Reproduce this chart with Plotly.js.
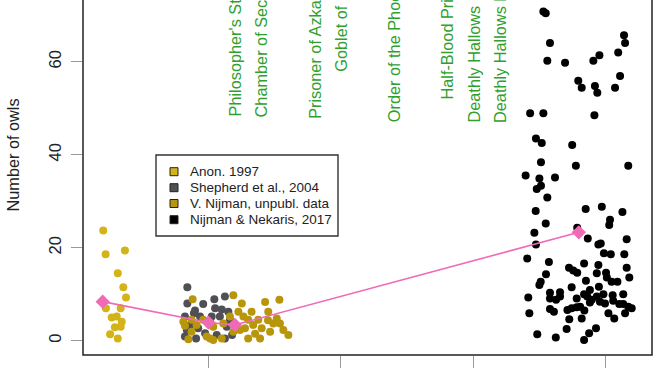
<!DOCTYPE html>
<html>
<head>
<meta charset="utf-8">
<script src="https://cdn.plot.ly/plotly-3.0.1.min.js"></script>
<style>html,body{margin:0;padding:0;background:#fff;}#chart{width:672px;height:372px;}</style>
</head>
<body>
<div id="chart"></div>
<script>
// ---- data ----
const anonYear = [1996.02,1996.11,1996.84,1996.57,1996.78,1996.88,1996.12,1996.68,1996.34,1996.53,1996.72,1996.46,1996.68,1996.28,1996.57];
const anonOwls = [23.7,18.6,19.4,14.5,11.5,9.3,7.0,7.0,5.0,5.2,4.1,2.9,3.0,1.4,0.5];

const shepYear = [1999.20,1999.20,1999.49,1999.80,2000.22,2000.62,2000.25,2000.50,1999.45,1999.11,2000.12,2000.43,1999.61,1999.11,1999.87,2000.31,2000.62,2000.69,2000.75,1999.18,1999.68,2000.81,1999.31,2000.06,2000.89,1999.53];
const shepOwls = [11.5,8.0,6.5,7.9,8.9,9.5,7.0,6.7,5.9,5.2,5.2,5.2,2.7,0.9,1.6,1.2,0.5,3.0,6.2,2.3,5.2,4.5,3.4,4.0,1.2,0.5];

const nijYear = [1999.40,2000.94,2001.26,2002.14,2002.68,2002.26,2001.13,1999.05,1999.36,1999.55,1999.80,1999.36,1999.93,2000.18,2000.56,2000.81,2000.94,2001.38,2001.50,2001.69,2001.88,2002.01,2001.95,2002.33,2002.45,2002.58,2002.70,2002.83,2003.02,2001.50,2000.50,2000.18,2001.63,2001.32,1999.11,1999.24,2000.06,2001.76,2002.25,2001.19];
const nijOwls = [8.9,9.8,8.0,8.3,8.8,6.2,6.2,4.1,4.5,3.4,4.5,1.9,0.9,3.0,3.7,5.2,1.9,2.7,4.5,3.4,4.5,2.7,0.5,1.9,3.7,4.8,3.7,2.3,1.2,0.5,0.5,0.15,6.2,5.2,3.2,0.3,0.5,1.5,4.4,2.3];

const nnYear = [2012.66,2012.75,2012.91,2012.81,2013.48,2014.55,2014.78,2015.49,2015.71,2015.75,2015.56,2013.98,2014.11,2014.61,2014.70,2015.37,2014.59,2012.16,2012.66,2012.38,2012.60,2013.75,2012.57,2013.89,2015.87,2011.99,2012.51,2013.10,2012.41,2012.57,2012.81,2012.37,2014.26,2014.87,2015.65,2012.75,2012.32,2015.18,2015.15,2013.94,2014.34,2012.38,2014.74,2014.83,2015.81,2012.05,2012.87,2014.95,2015.21,2015.72,2013.63,2013.79,2013.94,2014.20,2014.74,2015.81,2012.76,2012.56,2012.51,2014.27,2014.68,2015.03,2015.06,2015.24,2015.46,2015.91,2014.76,2013.73,2014.42,2012.91,2013.29,2014.20,2014.32,2014.93,2015.28,2015.68,2012.09,2012.91,2013.14,2013.29,2013.92,2014.49,2014.68,2014.80,2014.42,2014.99,2015.30,2015.53,2015.68,2015.87,2016.00,2015.75,2012.91,2013.06,2013.57,2013.73,2013.92,2014.05,2014.21,2014.11,2012.13,2013.64,2015.12,2015.34,2013.54,2012.43,2013.13,2014.20,2014.39,2014.65];
const nnOwls = [70.8,70.4,64.0,60.2,59.8,60.2,61.4,62.0,65.7,64.0,56.9,55.9,54.4,54.8,53.3,54.4,48.5,48.9,48.9,43.5,42.5,42.1,38.4,37.6,37.6,35.5,34.9,35.1,32.6,33.3,30.8,27.9,28.3,28.8,27.7,25.2,23.2,26.0,24.9,24.3,22.0,20.7,20.7,20.9,21.8,17.7,16.9,18.8,18.6,18.6,15.7,15.1,14.6,16.6,16.3,15.7,14.3,12.7,12.0,12.9,14.5,14.6,13.6,12.7,12.7,13.6,11.6,11.5,10.9,10.3,10.4,10.0,9.5,10.0,9.8,10.0,9.3,9.1,8.8,9.5,9.1,8.8,9.5,8.4,8.2,8.0,8.6,7.9,7.9,7.3,7.0,5.9,6.8,6.2,6.6,7.0,7.2,7.3,6.5,4.8,5.9,4.6,5.9,4.8,2.5,1.4,0.7,0.15,1.6,2.7];

const meanYear = [1996, 2000, 2001, 2014];
const meanOwls = [8.4, 3.9, 3.4, 23.3];

const filmTitles = ["Philosopher's Stone","Chamber of Secrets","Prisoner of Azkaban","Goblet of Fire","Order of the Phoenix","Half-Blood Prince","Deathly Hallows Pt.1","Deathly Hallows Pt.2"];
const filmYears = [2001, 2002, 2004, 2005, 2007, 2009, 2010, 2011];

const xTickVals = [2000, 2005, 2010, 2015];
const yTickVals = [0, 20, 40, 60];

const seriesNames = ["Anon. 1997", "Shepherd et al., 2004", "V. Nijman, unpubl. data", "Nijman & Nekaris, 2017"];
const seriesColors = ["#d4b318", "#4f4f55", "#b8960c", "#000000"];
const yTitle = "Number of owls";

// ---- layout helpers (pixel -> paper) ----
const W = 672, H = 372;
const M = {l: 83, r: 20, t: 0, b: 17};
const PW = W - M.l - M.r, PH = H - M.t - M.b;
const px = x => (x - M.l) / PW;
const py = y => (H - M.b - y) / PH;
const FONT = "Liberation Sans, Arial, sans-serif";

const xs = [anonYear, shepYear, nijYear, nnYear];
const ys = [anonOwls, shepOwls, nijOwls, nnOwls];
const traces = xs.map((x, i) => ({
  type: 'scatter', mode: 'markers', x: x, y: ys[i], name: seriesNames[i],
  showlegend: false, hoverinfo: 'skip',
  marker: {color: seriesColors[i], size: 8, line: {width: 0}}
}));
traces.push({
  type: 'scatter', mode: 'lines+markers', x: meanYear, y: meanOwls, showlegend: false,
  line: {color: '#f06ab6', width: 1.6},
  marker: {symbol: 'diamond', size: 11, color: '#f06ab6', line: {width: 0}}
});

const annotations = [];
filmTitles.forEach((t, i) => annotations.push({
  text: t, x: filmYears[i], xref: 'x', y: py(-29.5), yref: 'paper',
  xanchor: 'center', yanchor: 'top', textangle: -90, showarrow: false,
  font: {family: FONT, size: 16.3, color: '#2f9f2f'}
}));
annotations.push({
  text: yTitle, x: px(12.5), xref: 'paper', y: py(155), yref: 'paper',
  xanchor: 'center', yanchor: 'middle', textangle: -90, showarrow: false,
  font: {family: FONT, size: 16.3, color: '#222'}
});

const shapes = [
  {type: 'rect', xref: 'paper', yref: 'paper', x0: 0, x1: 1, y0: 0, y1: 1.2,
   line: {color: '#222', width: 1.5}, fillcolor: 'rgba(0,0,0,0)', layer: 'above'},
  {type: 'rect', xref: 'paper', yref: 'paper', x0: px(156), x1: px(338), y0: py(236), y1: py(155),
   line: {color: '#333', width: 1.4}, fillcolor: '#fff', layer: 'above'}
];
const rowY = [171.7, 187.7, 203.5, 219.7];
seriesNames.forEach((n, i) => {
  shapes.push({type: 'rect', xref: 'paper', yref: 'paper',
    x0: px(170), x1: px(178), y0: py(rowY[i] + 4), y1: py(rowY[i] - 4),
    line: {color: '#222', width: 1}, fillcolor: seriesColors[i], layer: 'above'});
  annotations.push({text: n, x: px(188), xref: 'paper', y: py(rowY[i]), yref: 'paper',
    xanchor: 'left', yanchor: 'middle', showarrow: false,
    font: {family: FONT, size: 13.5, color: '#222'}});
});

const x0 = 2000 - (208.5 - M.l) / 26.45;
const y0 = -(H - M.b - 340.7) / 4.65;
const layout = {
  width: W, height: H, margin: M, paper_bgcolor: '#fff', plot_bgcolor: '#fff',
  showlegend: false,
  xaxis: {range: [x0, x0 + PW / 26.45], tickvals: xTickVals, showticklabels: false,
    ticks: 'outside', ticklen: 12, tickcolor: '#999', tickwidth: 1,
    showgrid: false, zeroline: false, showline: false},
  yaxis: {range: [y0, y0 + PH / 4.65], tickvals: yTickVals, ticks: 'outside', ticklen: 11,
    tickcolor: '#999', tickwidth: 1, tickangle: -90, ticklabelstandoff: 3,
    tickfont: {family: FONT, size: 16.5, color: '#222'},
    showgrid: false, zeroline: false, showline: false},
  annotations: annotations, shapes: shapes, font: {family: FONT}
};
Plotly.newPlot('chart', traces, layout, {displayModeBar: false, staticPlot: true});
</script>
</body>
</html>
